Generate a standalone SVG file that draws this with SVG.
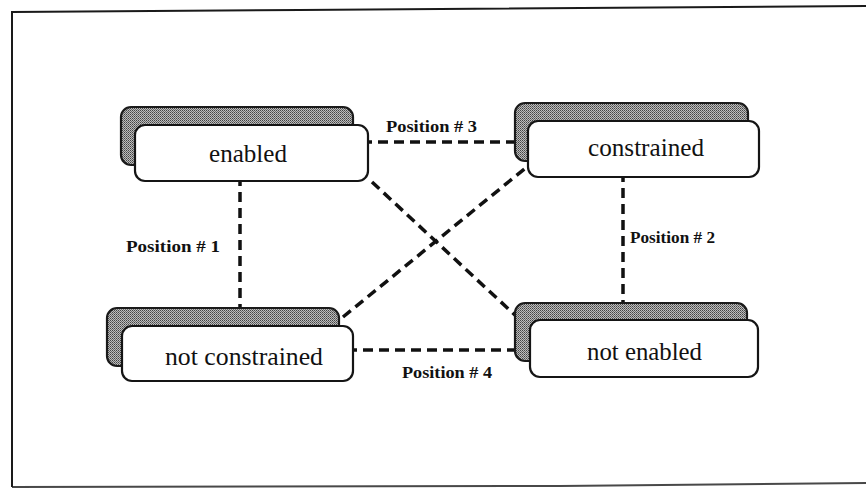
<svg xmlns="http://www.w3.org/2000/svg" width="866" height="489" viewBox="0 0 866 489">
  <defs>
    <!-- stippled fill used for the raised back plates -->
    <pattern id="stipple" width="2" height="2" patternUnits="userSpaceOnUse">
      <rect width="2" height="2" fill="#bdbdbd"/>
      <rect x="0" y="0" width="1" height="1" fill="#444"/>
      <rect x="1" y="1" width="1" height="1" fill="#6a6a6a"/>
    </pattern>
    <style>
      .back { fill: url(#stipple); stroke: #1a1a1a; stroke-width: 2.2; }
      .front { fill: #ffffff; stroke: #151515; stroke-width: 2.2; }
      .name { font-family: "Liberation Serif", "Times New Roman", serif; font-size: 26px; fill: #111; }
      .pos { font-family: "Liberation Serif", "Times New Roman", serif; font-size: 17px; font-weight: bold; fill: #111; }
      .link { fill: none; stroke: #111; stroke-width: 3.5; stroke-dasharray: 10 6; }
      .frame { fill: none; stroke: #1a1a1a; stroke-width: 2; }
    </style>
  </defs>

  <rect width="866" height="489" fill="#ffffff"/>

  <!-- page frame -->
  <path class="frame" d="M12 487 L12 12 L300 10 L866 6"/>
  <path class="frame" d="M12 487 L560 486 L866 483" stroke-opacity="0.8"/>

  <!-- connectors -->
  <g id="connectors">
    <line class="link" x1="240" y1="176" x2="240" y2="309"/>
    <line class="link" x1="362" y1="142" x2="516" y2="142"/>
    <line class="link" x1="623" y1="172" x2="623" y2="304"/>
    <line class="link" x1="347" y1="350" x2="516" y2="350"/>
    <line class="link" x1="372" y1="182" x2="516" y2="316"/>
    <line class="link" x1="343" y1="317" x2="528" y2="166"/>
    <text class="pos" x="126" y="252" textLength="94" lengthAdjust="spacingAndGlyphs">Position # 1</text>
    <text class="pos" x="386" y="132" textLength="91" lengthAdjust="spacingAndGlyphs">Position # 3</text>
    <text class="pos" x="630" y="243" textLength="85" lengthAdjust="spacingAndGlyphs">Position # 2</text>
    <text class="pos" x="402" y="378" textLength="90" lengthAdjust="spacingAndGlyphs">Position # 4</text>
  </g>

  <g id="node-enabled">
    <rect class="back" x="121" y="107" width="232" height="58" rx="10"/>
    <rect class="front" x="135" y="125" width="233" height="56" rx="10"/>
    <text class="name" x="209" y="162" textLength="78" lengthAdjust="spacingAndGlyphs">enabled</text>
  </g>

  <g id="node-constrained">
    <rect class="back" x="515" y="103" width="233" height="58" rx="10"/>
    <rect class="front" x="528" y="121" width="231" height="56" rx="10"/>
    <text class="name" x="588" y="156" textLength="116" lengthAdjust="spacingAndGlyphs">constrained</text>
  </g>

  <g id="node-not-constrained">
    <rect class="back" x="107" y="308" width="232" height="58" rx="10"/>
    <rect class="front" x="122" y="326" width="231" height="55" rx="10"/>
    <text class="name" x="165" y="365" textLength="158" lengthAdjust="spacingAndGlyphs">not constrained</text>
  </g>

  <g id="node-not-enabled">
    <rect class="back" x="515" y="303" width="232" height="58" rx="10"/>
    <rect class="front" x="530" y="320" width="228" height="57" rx="10"/>
    <text class="name" x="587" y="360" textLength="115" lengthAdjust="spacingAndGlyphs">not enabled</text>
  </g>
</svg>
